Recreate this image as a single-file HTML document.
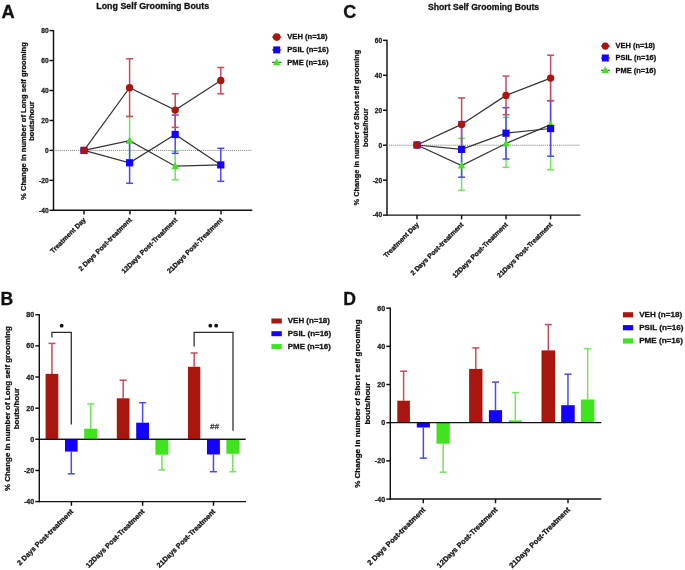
<!DOCTYPE html>
<html><head><meta charset="utf-8"><style>
html,body{margin:0;padding:0;background:#fff;}
body{width:685px;height:570px;overflow:hidden;}
svg{display:block;font-family:"Liberation Sans", sans-serif;filter:blur(0.4px);}
text{stroke-width:0.28px;}
</style></head><body>
<svg width="685" height="570" viewBox="0 0 685 570">
<rect width="685" height="570" fill="#fff"/>
<text x="1.40" y="18.00" font-size="18.3" text-anchor="start" font-weight="bold" fill="#111" stroke="#111" >A</text>
<text x="343.30" y="18.00" font-size="18.0" text-anchor="start" font-weight="bold" fill="#111" stroke="#111" >C</text>
<text x="0.60" y="305.00" font-size="17.6" text-anchor="start" font-weight="bold" fill="#111" stroke="#111" >B</text>
<text x="343.20" y="305.00" font-size="17.6" text-anchor="start" font-weight="bold" fill="#111" stroke="#111" >D</text>
<text x="152.70" y="9.00" font-size="8.9" text-anchor="middle" font-weight="bold" fill="#111" stroke="#111" >Long Self Grooming Bouts</text>
<text x="483.60" y="9.60" font-size="8.65" text-anchor="middle" font-weight="bold" fill="#111" stroke="#111" >Short Self Grooming Bouts</text>
<line x1="53.5" y1="30.000000000000007" x2="53.5" y2="210.9" stroke="#111" stroke-width="1.45"/>
<line x1="49.5" y1="30.60000000000001" x2="53.5" y2="30.60000000000001" stroke="#111" stroke-width="1.45"/>
<text x="48.60" y="32.98" font-size="6.6" text-anchor="end" font-weight="bold" fill="#222" stroke="#222" >80</text>
<line x1="49.5" y1="60.55000000000001" x2="53.5" y2="60.55000000000001" stroke="#111" stroke-width="1.45"/>
<text x="48.60" y="62.93" font-size="6.6" text-anchor="end" font-weight="bold" fill="#222" stroke="#222" >60</text>
<line x1="49.5" y1="90.5" x2="53.5" y2="90.5" stroke="#111" stroke-width="1.45"/>
<text x="48.60" y="92.88" font-size="6.6" text-anchor="end" font-weight="bold" fill="#222" stroke="#222" >40</text>
<line x1="49.5" y1="120.45" x2="53.5" y2="120.45" stroke="#111" stroke-width="1.45"/>
<text x="48.60" y="122.83" font-size="6.6" text-anchor="end" font-weight="bold" fill="#222" stroke="#222" >20</text>
<line x1="49.5" y1="150.4" x2="53.5" y2="150.4" stroke="#111" stroke-width="1.45"/>
<text x="48.60" y="152.78" font-size="6.6" text-anchor="end" font-weight="bold" fill="#222" stroke="#222" >0</text>
<line x1="49.5" y1="180.35" x2="53.5" y2="180.35" stroke="#111" stroke-width="1.45"/>
<text x="48.60" y="182.73" font-size="6.6" text-anchor="end" font-weight="bold" fill="#222" stroke="#222" >-20</text>
<line x1="49.5" y1="210.3" x2="53.5" y2="210.3" stroke="#111" stroke-width="1.45"/>
<text x="48.60" y="212.68" font-size="6.6" text-anchor="end" font-weight="bold" fill="#222" stroke="#222" >-40</text>
<line x1="53.5" y1="210.3" x2="252.3" y2="210.3" stroke="#111" stroke-width="1.45"/>
<line x1="84" y1="210.3" x2="84" y2="214.5" stroke="#111" stroke-width="1.45"/>
<line x1="130" y1="210.3" x2="130" y2="214.5" stroke="#111" stroke-width="1.45"/>
<line x1="175.5" y1="210.3" x2="175.5" y2="214.5" stroke="#111" stroke-width="1.45"/>
<line x1="221" y1="210.3" x2="221" y2="214.5" stroke="#111" stroke-width="1.45"/>
<line x1="53.5" y1="150.4" x2="251.3" y2="150.4" stroke="#808080" stroke-width="1" stroke-dasharray="1.1,0.95"/>
<text transform="translate(25.50,121.00) rotate(-90)" font-size="7.6" text-anchor="middle" font-weight="bold" fill="#111" stroke="#111">% Change in number of Long self grooming</text>
<text transform="translate(34.30,121.00) rotate(-90)" font-size="7.6" text-anchor="middle" font-weight="bold" fill="#111" stroke="#111">bouts/hour</text>
<text transform="translate(86.30,220.30) rotate(-45)" font-size="6.85" text-anchor="end" font-weight="bold" fill="#111" stroke="#111">Treatment Day</text>
<text transform="translate(132.30,220.30) rotate(-45)" font-size="6.85" text-anchor="end" font-weight="bold" fill="#111" stroke="#111">2 Days Post-treatment</text>
<text transform="translate(177.80,220.30) rotate(-45)" font-size="6.85" text-anchor="end" font-weight="bold" fill="#111" stroke="#111">12Days Post-Treatment</text>
<text transform="translate(223.30,220.30) rotate(-45)" font-size="6.85" text-anchor="end" font-weight="bold" fill="#111" stroke="#111">21Days Post-Treatment</text>
<line x1="129.6" y1="116.6" x2="129.6" y2="164.8" stroke="#6ee65a" stroke-width="1.5"/>
<line x1="126.1" y1="116.6" x2="133.1" y2="116.6" stroke="#6ee65a" stroke-width="1.5"/>
<line x1="126.1" y1="164.8" x2="133.1" y2="164.8" stroke="#6ee65a" stroke-width="1.5"/>
<line x1="175.2" y1="151.3" x2="175.2" y2="179.8" stroke="#6ee65a" stroke-width="1.5"/>
<line x1="171.7" y1="151.3" x2="178.7" y2="151.3" stroke="#6ee65a" stroke-width="1.5"/>
<line x1="171.7" y1="179.8" x2="178.7" y2="179.8" stroke="#6ee65a" stroke-width="1.5"/>
<line x1="129.6" y1="142.3" x2="129.6" y2="183.3" stroke="#4f48f2" stroke-width="1.5"/>
<line x1="126.1" y1="142.3" x2="133.1" y2="142.3" stroke="#4f48f2" stroke-width="1.5"/>
<line x1="126.1" y1="183.3" x2="133.1" y2="183.3" stroke="#4f48f2" stroke-width="1.5"/>
<line x1="175.2" y1="115.1" x2="175.2" y2="153.4" stroke="#4f48f2" stroke-width="1.5"/>
<line x1="171.7" y1="115.1" x2="178.7" y2="115.1" stroke="#4f48f2" stroke-width="1.5"/>
<line x1="171.7" y1="153.4" x2="178.7" y2="153.4" stroke="#4f48f2" stroke-width="1.5"/>
<line x1="220.8" y1="148.3" x2="220.8" y2="181.3" stroke="#4f48f2" stroke-width="1.5"/>
<line x1="217.3" y1="148.3" x2="224.3" y2="148.3" stroke="#4f48f2" stroke-width="1.5"/>
<line x1="217.3" y1="181.3" x2="224.3" y2="181.3" stroke="#4f48f2" stroke-width="1.5"/>
<line x1="129.6" y1="58.8" x2="129.6" y2="116.4" stroke="#c94a5c" stroke-width="1.5"/>
<line x1="126.1" y1="58.8" x2="133.1" y2="58.8" stroke="#c94a5c" stroke-width="1.5"/>
<line x1="126.1" y1="116.4" x2="133.1" y2="116.4" stroke="#c94a5c" stroke-width="1.5"/>
<line x1="175.2" y1="93.8" x2="175.2" y2="127.4" stroke="#c94a5c" stroke-width="1.5"/>
<line x1="171.7" y1="93.8" x2="178.7" y2="93.8" stroke="#c94a5c" stroke-width="1.5"/>
<line x1="171.7" y1="127.4" x2="178.7" y2="127.4" stroke="#c94a5c" stroke-width="1.5"/>
<line x1="220.8" y1="67.5" x2="220.8" y2="93.8" stroke="#c94a5c" stroke-width="1.5"/>
<line x1="217.3" y1="67.5" x2="224.3" y2="67.5" stroke="#c94a5c" stroke-width="1.5"/>
<line x1="217.3" y1="93.8" x2="224.3" y2="93.8" stroke="#c94a5c" stroke-width="1.5"/>
<polyline points="84,150.4 129.6,140.7 175.2,166.2 220.8,164.9" fill="none" stroke="#333" stroke-width="1.2"/>
<polyline points="84,150.4 129.6,162.8 175.2,134.5 220.8,164.9" fill="none" stroke="#333" stroke-width="1.2"/>
<polyline points="84,150.4 129.6,87.7 175.2,110.1 220.8,80.5" fill="none" stroke="#333" stroke-width="1.2"/>
<polygon points="129.6,136.5675 133.35,143.6925 125.85,143.6925" fill="#3fe41e"/>
<polygon points="175.2,162.0675 178.95,169.1925 171.45,169.1925" fill="#3fe41e"/>
<polygon points="220.8,160.7675 224.55,167.8925 217.05,167.8925" fill="#3fe41e"/>
<rect x="80.4" y="146.8" width="7.2" height="7.2" fill="#1400ff"/>
<rect x="126.0" y="159.20000000000002" width="7.2" height="7.2" fill="#1400ff"/>
<rect x="171.6" y="130.9" width="7.2" height="7.2" fill="#1400ff"/>
<rect x="217.20000000000002" y="161.3" width="7.2" height="7.2" fill="#1400ff"/>
<circle cx="84" cy="150.4" r="3.7" fill="#a8160f"/>
<circle cx="129.6" cy="87.7" r="3.7" fill="#a8160f"/>
<circle cx="175.2" cy="110.1" r="3.7" fill="#a8160f"/>
<circle cx="220.8" cy="80.5" r="3.7" fill="#a8160f"/>
<line x1="272" y1="37.1" x2="281.5" y2="37.1" stroke="#333" stroke-width="1"/>
<circle cx="276.7" cy="37.1" r="3.8" fill="#a8160f"/>
<text x="287.30" y="39.45" font-size="7.6" text-anchor="start" font-weight="bold" fill="#111" stroke="#111" >VEH (n=18)</text>
<line x1="272" y1="49.9" x2="281.5" y2="49.9" stroke="#333" stroke-width="1"/>
<rect x="273.2" y="46.4" width="7" height="7" fill="#1400ff"/>
<text x="287.30" y="52.25" font-size="7.6" text-anchor="start" font-weight="bold" fill="#111" stroke="#111" >PSIL (n=16)</text>
<line x1="272" y1="62.3" x2="281.5" y2="62.3" stroke="#333" stroke-width="1"/>
<polygon points="276.7,58.1675 280.45,65.29249999999999 272.95,65.29249999999999" fill="#3fe41e"/>
<text x="287.30" y="64.65" font-size="7.6" text-anchor="start" font-weight="bold" fill="#111" stroke="#111" >PME (n=16)</text>
<line x1="387" y1="39.74999999999999" x2="387" y2="215.7" stroke="#111" stroke-width="1.45"/>
<line x1="383.0" y1="40.349999999999994" x2="387" y2="40.349999999999994" stroke="#111" stroke-width="1.45"/>
<text x="382.20" y="42.73" font-size="6.6" text-anchor="end" font-weight="bold" fill="#222" stroke="#222" >60</text>
<line x1="383.0" y1="75.29999999999998" x2="387" y2="75.29999999999998" stroke="#111" stroke-width="1.45"/>
<text x="382.20" y="77.68" font-size="6.6" text-anchor="end" font-weight="bold" fill="#222" stroke="#222" >40</text>
<line x1="383.0" y1="110.24999999999999" x2="387" y2="110.24999999999999" stroke="#111" stroke-width="1.45"/>
<text x="382.20" y="112.63" font-size="6.6" text-anchor="end" font-weight="bold" fill="#222" stroke="#222" >20</text>
<line x1="383.0" y1="145.2" x2="387" y2="145.2" stroke="#111" stroke-width="1.45"/>
<text x="382.20" y="147.58" font-size="6.6" text-anchor="end" font-weight="bold" fill="#222" stroke="#222" >0</text>
<line x1="383.0" y1="180.14999999999998" x2="387" y2="180.14999999999998" stroke="#111" stroke-width="1.45"/>
<text x="382.20" y="182.53" font-size="6.6" text-anchor="end" font-weight="bold" fill="#222" stroke="#222" >-20</text>
<line x1="383.0" y1="215.1" x2="387" y2="215.1" stroke="#111" stroke-width="1.45"/>
<text x="382.20" y="217.48" font-size="6.6" text-anchor="end" font-weight="bold" fill="#222" stroke="#222" >-40</text>
<line x1="387" y1="215.1" x2="580.5" y2="215.1" stroke="#111" stroke-width="1.45"/>
<line x1="417" y1="215.1" x2="417" y2="219.29999999999998" stroke="#111" stroke-width="1.45"/>
<line x1="461.6" y1="215.1" x2="461.6" y2="219.29999999999998" stroke="#111" stroke-width="1.45"/>
<line x1="506" y1="215.1" x2="506" y2="219.29999999999998" stroke="#111" stroke-width="1.45"/>
<line x1="550.6" y1="215.1" x2="550.6" y2="219.29999999999998" stroke="#111" stroke-width="1.45"/>
<line x1="387" y1="145.2" x2="580" y2="145.2" stroke="#808080" stroke-width="1" stroke-dasharray="1.1,0.95"/>
<text transform="translate(359.00,127.60) rotate(-90)" font-size="7.45" text-anchor="middle" font-weight="bold" fill="#111" stroke="#111">% Change in number of Short self grooming</text>
<text transform="translate(368.00,127.60) rotate(-90)" font-size="7.45" text-anchor="middle" font-weight="bold" fill="#111" stroke="#111">bouts/hour</text>
<text transform="translate(419.30,225.10) rotate(-45)" font-size="6.8" text-anchor="end" font-weight="bold" fill="#111" stroke="#111">Treatment Day</text>
<text transform="translate(463.90,225.10) rotate(-45)" font-size="6.8" text-anchor="end" font-weight="bold" fill="#111" stroke="#111">2 Days Post-treatment</text>
<text transform="translate(508.30,225.10) rotate(-45)" font-size="6.8" text-anchor="end" font-weight="bold" fill="#111" stroke="#111">12Days Post-Treatment</text>
<text transform="translate(552.90,225.10) rotate(-45)" font-size="6.8" text-anchor="end" font-weight="bold" fill="#111" stroke="#111">21Days Post-Treatment</text>
<line x1="461.6" y1="138.4" x2="461.6" y2="190.4" stroke="#6ee65a" stroke-width="1.5"/>
<line x1="458.1" y1="138.4" x2="465.1" y2="138.4" stroke="#6ee65a" stroke-width="1.5"/>
<line x1="458.1" y1="190.4" x2="465.1" y2="190.4" stroke="#6ee65a" stroke-width="1.5"/>
<line x1="506" y1="117.4" x2="506" y2="167.4" stroke="#6ee65a" stroke-width="1.5"/>
<line x1="502.5" y1="117.4" x2="509.5" y2="117.4" stroke="#6ee65a" stroke-width="1.5"/>
<line x1="502.5" y1="167.4" x2="509.5" y2="167.4" stroke="#6ee65a" stroke-width="1.5"/>
<line x1="550.6" y1="77.8" x2="550.6" y2="169.7" stroke="#6ee65a" stroke-width="1.5"/>
<line x1="547.1" y1="77.8" x2="554.1" y2="77.8" stroke="#6ee65a" stroke-width="1.5"/>
<line x1="547.1" y1="169.7" x2="554.1" y2="169.7" stroke="#6ee65a" stroke-width="1.5"/>
<line x1="461.6" y1="121.6" x2="461.6" y2="177.2" stroke="#4f48f2" stroke-width="1.5"/>
<line x1="458.1" y1="121.6" x2="465.1" y2="121.6" stroke="#4f48f2" stroke-width="1.5"/>
<line x1="458.1" y1="177.2" x2="465.1" y2="177.2" stroke="#4f48f2" stroke-width="1.5"/>
<line x1="506" y1="107.7" x2="506" y2="159" stroke="#4f48f2" stroke-width="1.5"/>
<line x1="502.5" y1="107.7" x2="509.5" y2="107.7" stroke="#4f48f2" stroke-width="1.5"/>
<line x1="502.5" y1="159" x2="509.5" y2="159" stroke="#4f48f2" stroke-width="1.5"/>
<line x1="550.6" y1="100.7" x2="550.6" y2="156.2" stroke="#4f48f2" stroke-width="1.5"/>
<line x1="547.1" y1="100.7" x2="554.1" y2="100.7" stroke="#4f48f2" stroke-width="1.5"/>
<line x1="547.1" y1="156.2" x2="554.1" y2="156.2" stroke="#4f48f2" stroke-width="1.5"/>
<line x1="461.6" y1="97.9" x2="461.6" y2="150.9" stroke="#c94a5c" stroke-width="1.5"/>
<line x1="458.1" y1="97.9" x2="465.1" y2="97.9" stroke="#c94a5c" stroke-width="1.5"/>
<line x1="458.1" y1="150.9" x2="465.1" y2="150.9" stroke="#c94a5c" stroke-width="1.5"/>
<line x1="506" y1="76.1" x2="506" y2="114.7" stroke="#c94a5c" stroke-width="1.5"/>
<line x1="502.5" y1="76.1" x2="509.5" y2="76.1" stroke="#c94a5c" stroke-width="1.5"/>
<line x1="502.5" y1="114.7" x2="509.5" y2="114.7" stroke="#c94a5c" stroke-width="1.5"/>
<line x1="550.6" y1="55.2" x2="550.6" y2="100.7" stroke="#c94a5c" stroke-width="1.5"/>
<line x1="547.1" y1="55.2" x2="554.1" y2="55.2" stroke="#c94a5c" stroke-width="1.5"/>
<line x1="547.1" y1="100.7" x2="554.1" y2="100.7" stroke="#c94a5c" stroke-width="1.5"/>
<polyline points="417,145 461.6,165.6 506,143.5 550.6,124.6" fill="none" stroke="#333" stroke-width="1.2"/>
<polyline points="417,145 461.6,149.4 506,133.2 550.6,128.5" fill="none" stroke="#333" stroke-width="1.2"/>
<polyline points="417,145 461.6,124.4 506,95.4 550.6,78.1" fill="none" stroke="#333" stroke-width="1.2"/>
<polygon points="461.6,161.4675 465.35,168.5925 457.85,168.5925" fill="#3fe41e"/>
<polygon points="506,139.3675 509.75,146.4925 502.25,146.4925" fill="#3fe41e"/>
<polygon points="550.6,120.4675 554.35,127.5925 546.85,127.5925" fill="#3fe41e"/>
<rect x="413.4" y="141.4" width="7.2" height="7.2" fill="#1400ff"/>
<rect x="458.0" y="145.8" width="7.2" height="7.2" fill="#1400ff"/>
<rect x="502.4" y="129.6" width="7.2" height="7.2" fill="#1400ff"/>
<rect x="547.0" y="124.9" width="7.2" height="7.2" fill="#1400ff"/>
<circle cx="417" cy="145" r="3.7" fill="#a8160f"/>
<circle cx="461.6" cy="124.4" r="3.7" fill="#a8160f"/>
<circle cx="506" cy="95.4" r="3.7" fill="#a8160f"/>
<circle cx="550.6" cy="78.1" r="3.7" fill="#a8160f"/>
<line x1="601" y1="46.1" x2="610" y2="46.1" stroke="#333" stroke-width="1"/>
<circle cx="605.3" cy="46.1" r="3.6" fill="#a8160f"/>
<text x="615.60" y="48.40" font-size="7.45" text-anchor="start" font-weight="bold" fill="#111" stroke="#111" >VEH (n=18)</text>
<line x1="601" y1="58.0" x2="610" y2="58.0" stroke="#333" stroke-width="1"/>
<rect x="601.8" y="54.5" width="7" height="7" fill="#1400ff"/>
<text x="615.60" y="60.30" font-size="7.45" text-anchor="start" font-weight="bold" fill="#111" stroke="#111" >PSIL (n=16)</text>
<line x1="601" y1="70.3" x2="610" y2="70.3" stroke="#333" stroke-width="1"/>
<polygon points="605.3,66.1675 609.05,73.29249999999999 601.55,73.29249999999999" fill="#3fe41e"/>
<text x="615.60" y="72.60" font-size="7.45" text-anchor="start" font-weight="bold" fill="#111" stroke="#111" >PME (n=16)</text>
<line x1="39.3" y1="314.1" x2="39.3" y2="502.20000000000005" stroke="#111" stroke-width="1.45"/>
<line x1="35.3" y1="314.70000000000005" x2="39.3" y2="314.70000000000005" stroke="#111" stroke-width="1.45"/>
<text x="34.30" y="317.27" font-size="7.15" text-anchor="end" font-weight="bold" fill="#222" stroke="#222" >80</text>
<line x1="35.3" y1="345.85" x2="39.3" y2="345.85" stroke="#111" stroke-width="1.45"/>
<text x="34.30" y="348.42" font-size="7.15" text-anchor="end" font-weight="bold" fill="#222" stroke="#222" >60</text>
<line x1="35.3" y1="377.0" x2="39.3" y2="377.0" stroke="#111" stroke-width="1.45"/>
<text x="34.30" y="379.57" font-size="7.15" text-anchor="end" font-weight="bold" fill="#222" stroke="#222" >40</text>
<line x1="35.3" y1="408.15000000000003" x2="39.3" y2="408.15000000000003" stroke="#111" stroke-width="1.45"/>
<text x="34.30" y="410.72" font-size="7.15" text-anchor="end" font-weight="bold" fill="#222" stroke="#222" >20</text>
<line x1="35.3" y1="439.3" x2="39.3" y2="439.3" stroke="#111" stroke-width="1.45"/>
<text x="34.30" y="441.87" font-size="7.15" text-anchor="end" font-weight="bold" fill="#222" stroke="#222" >0</text>
<line x1="35.3" y1="470.45" x2="39.3" y2="470.45" stroke="#111" stroke-width="1.45"/>
<text x="34.30" y="473.02" font-size="7.15" text-anchor="end" font-weight="bold" fill="#222" stroke="#222" >-20</text>
<line x1="35.3" y1="501.6" x2="39.3" y2="501.6" stroke="#111" stroke-width="1.45"/>
<text x="34.30" y="504.17" font-size="7.15" text-anchor="end" font-weight="bold" fill="#222" stroke="#222" >-40</text>
<line x1="39.3" y1="501.6" x2="246" y2="501.6" stroke="#111" stroke-width="1.45"/>
<line x1="71.4" y1="501.6" x2="71.4" y2="505.8" stroke="#111" stroke-width="1.45"/>
<line x1="142.6" y1="501.6" x2="142.6" y2="505.8" stroke="#111" stroke-width="1.45"/>
<line x1="213.5" y1="501.6" x2="213.5" y2="505.8" stroke="#111" stroke-width="1.45"/>
<line x1="39.3" y1="439.3" x2="245.5" y2="439.3" stroke="#111" stroke-width="1.3"/>
<text transform="translate(9.50,408.60) rotate(-90)" font-size="7.95" text-anchor="middle" font-weight="bold" fill="#111" stroke="#111">% Change in number of Long self grooming</text>
<text transform="translate(18.90,408.60) rotate(-90)" font-size="7.95" text-anchor="middle" font-weight="bold" fill="#111" stroke="#111">bouts/hour</text>
<text transform="translate(73.70,512.00) rotate(-45)" font-size="7.2" text-anchor="end" font-weight="bold" fill="#111" stroke="#111">2 Days Post-treatment</text>
<text transform="translate(144.90,512.00) rotate(-45)" font-size="7.2" text-anchor="end" font-weight="bold" fill="#111" stroke="#111">12Days Post-Treatment</text>
<text transform="translate(215.80,512.00) rotate(-45)" font-size="7.2" text-anchor="end" font-weight="bold" fill="#111" stroke="#111">21Days Post-Treatment</text>
<line x1="51.95" y1="343.4" x2="51.95" y2="373.9" stroke="#c94a5c" stroke-width="1.5"/>
<line x1="48.45" y1="343.4" x2="55.45" y2="343.4" stroke="#c94a5c" stroke-width="1.5"/>
<rect x="45.6" y="373.9" width="12.699999999999996" height="65.40000000000003" fill="#a8160f"/>
<line x1="71.3" y1="451.6" x2="71.3" y2="473.8" stroke="#4f48f2" stroke-width="1.5"/>
<line x1="67.8" y1="473.8" x2="74.8" y2="473.8" stroke="#4f48f2" stroke-width="1.5"/>
<rect x="65" y="439.3" width="12.599999999999994" height="12.300000000000011" fill="#1400ff"/>
<line x1="90.75" y1="403.9" x2="90.75" y2="428.7" stroke="#6ee65a" stroke-width="1.5"/>
<line x1="87.25" y1="403.9" x2="94.25" y2="403.9" stroke="#6ee65a" stroke-width="1.5"/>
<rect x="84.2" y="428.7" width="13.099999999999994" height="10.600000000000023" fill="#3fe41e"/>
<line x1="123.15" y1="380.2" x2="123.15" y2="398.3" stroke="#c94a5c" stroke-width="1.5"/>
<line x1="119.65" y1="380.2" x2="126.65" y2="380.2" stroke="#c94a5c" stroke-width="1.5"/>
<rect x="116.8" y="398.3" width="12.700000000000003" height="41.0" fill="#a8160f"/>
<line x1="142.6" y1="402.7" x2="142.6" y2="422.7" stroke="#4f48f2" stroke-width="1.5"/>
<line x1="139.1" y1="402.7" x2="146.1" y2="402.7" stroke="#4f48f2" stroke-width="1.5"/>
<rect x="136.2" y="422.7" width="12.800000000000011" height="16.600000000000023" fill="#1400ff"/>
<line x1="161.9" y1="454.7" x2="161.9" y2="469.9" stroke="#6ee65a" stroke-width="1.5"/>
<line x1="158.4" y1="469.9" x2="165.4" y2="469.9" stroke="#6ee65a" stroke-width="1.5"/>
<rect x="155.4" y="439.3" width="13.0" height="15.399999999999977" fill="#3fe41e"/>
<line x1="194.15" y1="353" x2="194.15" y2="366.8" stroke="#c94a5c" stroke-width="1.5"/>
<line x1="190.65" y1="353" x2="197.65" y2="353" stroke="#c94a5c" stroke-width="1.5"/>
<rect x="188" y="366.8" width="12.300000000000011" height="72.5" fill="#a8160f"/>
<line x1="213.45" y1="454.5" x2="213.45" y2="471.7" stroke="#4f48f2" stroke-width="1.5"/>
<line x1="209.95" y1="471.7" x2="216.95" y2="471.7" stroke="#4f48f2" stroke-width="1.5"/>
<rect x="207" y="439.3" width="12.900000000000006" height="15.199999999999989" fill="#1400ff"/>
<line x1="232.8" y1="453.8" x2="232.8" y2="471.7" stroke="#6ee65a" stroke-width="1.5"/>
<line x1="229.3" y1="471.7" x2="236.3" y2="471.7" stroke="#6ee65a" stroke-width="1.5"/>
<rect x="226.4" y="439.3" width="12.799999999999983" height="14.5" fill="#3fe41e"/>
<line x1="39.3" y1="439.3" x2="245.5" y2="439.3" stroke="#111" stroke-width="1.3"/>
<path d="M51.9,337.6 V332.3 H71.3 V424.6" fill="none" stroke="#2a2a2a" stroke-width="1.25"/>
<path d="M194.1,346.6 V332.4 H233 V430.7" fill="none" stroke="#2a2a2a" stroke-width="1.25"/>
<circle cx="61.7" cy="325.7" r="1.9" fill="#111"/>
<circle cx="210.3" cy="325.7" r="1.9" fill="#111"/>
<circle cx="216.2" cy="325.7" r="1.9" fill="#111"/>
<text x="214.40" y="429.20" font-size="8" text-anchor="middle" font-weight="normal" fill="#333" stroke="#333" font-style="italic">##</text>
<rect x="271.4" y="318.5" width="10.4" height="5" fill="#a8160f"/>
<text x="287.80" y="323.45" font-size="7.95" text-anchor="start" font-weight="bold" fill="#111" stroke="#111" >VEH (n=18)</text>
<rect x="271.4" y="331.2" width="10.4" height="5" fill="#1400ff"/>
<text x="287.80" y="336.15" font-size="7.95" text-anchor="start" font-weight="bold" fill="#111" stroke="#111" >PSIL (n=16)</text>
<rect x="271.4" y="344.1" width="10.4" height="5" fill="#3fe41e"/>
<text x="287.80" y="349.05" font-size="7.95" text-anchor="start" font-weight="bold" fill="#111" stroke="#111" >PME (n=16)</text>
<line x1="390.3" y1="307.55999999999995" x2="390.3" y2="499.66" stroke="#111" stroke-width="1.45"/>
<line x1="386.3" y1="308.15999999999997" x2="390.3" y2="308.15999999999997" stroke="#111" stroke-width="1.45"/>
<text x="385.10" y="310.72" font-size="7.1" text-anchor="end" font-weight="bold" fill="#222" stroke="#222" >60</text>
<line x1="386.3" y1="346.34" x2="390.3" y2="346.34" stroke="#111" stroke-width="1.45"/>
<text x="385.10" y="348.90" font-size="7.1" text-anchor="end" font-weight="bold" fill="#222" stroke="#222" >40</text>
<line x1="386.3" y1="384.52" x2="390.3" y2="384.52" stroke="#111" stroke-width="1.45"/>
<text x="385.10" y="387.08" font-size="7.1" text-anchor="end" font-weight="bold" fill="#222" stroke="#222" >20</text>
<line x1="386.3" y1="422.7" x2="390.3" y2="422.7" stroke="#111" stroke-width="1.45"/>
<text x="385.10" y="425.26" font-size="7.1" text-anchor="end" font-weight="bold" fill="#222" stroke="#222" >0</text>
<line x1="386.3" y1="460.88" x2="390.3" y2="460.88" stroke="#111" stroke-width="1.45"/>
<text x="385.10" y="463.44" font-size="7.1" text-anchor="end" font-weight="bold" fill="#222" stroke="#222" >-20</text>
<line x1="386.3" y1="499.06" x2="390.3" y2="499.06" stroke="#111" stroke-width="1.45"/>
<text x="385.10" y="501.62" font-size="7.1" text-anchor="end" font-weight="bold" fill="#222" stroke="#222" >-40</text>
<line x1="390.3" y1="499.06" x2="601.3" y2="499.06" stroke="#111" stroke-width="1.45"/>
<line x1="423.3" y1="499.06" x2="423.3" y2="503.26" stroke="#111" stroke-width="1.45"/>
<line x1="495.5" y1="499.06" x2="495.5" y2="503.26" stroke="#111" stroke-width="1.45"/>
<line x1="568" y1="499.06" x2="568" y2="503.26" stroke="#111" stroke-width="1.45"/>
<text transform="translate(360.20,403.60) rotate(-90)" font-size="8.05" text-anchor="middle" font-weight="bold" fill="#111" stroke="#111">% Change in number of Short self grooming</text>
<text transform="translate(369.60,403.60) rotate(-90)" font-size="8.05" text-anchor="middle" font-weight="bold" fill="#111" stroke="#111">bouts/hour</text>
<text transform="translate(425.80,510.26) rotate(-45)" font-size="7.45" text-anchor="end" font-weight="bold" fill="#111" stroke="#111">2 Days Post-treatment</text>
<text transform="translate(498.00,510.26) rotate(-45)" font-size="7.45" text-anchor="end" font-weight="bold" fill="#111" stroke="#111">12Days Post-Treatment</text>
<text transform="translate(570.50,510.26) rotate(-45)" font-size="7.45" text-anchor="end" font-weight="bold" fill="#111" stroke="#111">21Days Post-Treatment</text>
<line x1="403.6" y1="371.2" x2="403.6" y2="400.7" stroke="#c94a5c" stroke-width="1.5"/>
<line x1="400.1" y1="371.2" x2="407.1" y2="371.2" stroke="#c94a5c" stroke-width="1.5"/>
<rect x="397.3" y="400.7" width="12.599999999999966" height="22.0" fill="#a8160f"/>
<line x1="423.35" y1="427.5" x2="423.35" y2="458.1" stroke="#4f48f2" stroke-width="1.5"/>
<line x1="419.85" y1="458.1" x2="426.85" y2="458.1" stroke="#4f48f2" stroke-width="1.5"/>
<rect x="416.8" y="422.7" width="13.099999999999966" height="4.800000000000011" fill="#1400ff"/>
<line x1="443.15" y1="443.7" x2="443.15" y2="472.2" stroke="#6ee65a" stroke-width="1.5"/>
<line x1="439.65" y1="472.2" x2="446.65" y2="472.2" stroke="#6ee65a" stroke-width="1.5"/>
<rect x="436.5" y="422.7" width="13.300000000000011" height="21.0" fill="#3fe41e"/>
<line x1="475.8" y1="347.9" x2="475.8" y2="368.9" stroke="#c94a5c" stroke-width="1.5"/>
<line x1="472.3" y1="347.9" x2="479.3" y2="347.9" stroke="#c94a5c" stroke-width="1.5"/>
<rect x="469.1" y="368.9" width="13.399999999999977" height="53.80000000000001" fill="#a8160f"/>
<line x1="495.5" y1="382.1" x2="495.5" y2="410.2" stroke="#4f48f2" stroke-width="1.5"/>
<line x1="492.0" y1="382.1" x2="499.0" y2="382.1" stroke="#4f48f2" stroke-width="1.5"/>
<rect x="488.9" y="410.2" width="13.200000000000045" height="12.5" fill="#1400ff"/>
<line x1="515.35" y1="392.6" x2="515.35" y2="420.4" stroke="#6ee65a" stroke-width="1.5"/>
<line x1="511.85" y1="392.6" x2="518.85" y2="392.6" stroke="#6ee65a" stroke-width="1.5"/>
<rect x="508.8" y="420.4" width="13.099999999999966" height="2.3000000000000114" fill="#3fe41e"/>
<line x1="548.3" y1="324.6" x2="548.3" y2="350.4" stroke="#c94a5c" stroke-width="1.5"/>
<line x1="544.8" y1="324.6" x2="551.8" y2="324.6" stroke="#c94a5c" stroke-width="1.5"/>
<rect x="541.5" y="350.4" width="13.600000000000023" height="72.30000000000001" fill="#a8160f"/>
<line x1="567.95" y1="374.2" x2="567.95" y2="405.2" stroke="#4f48f2" stroke-width="1.5"/>
<line x1="564.45" y1="374.2" x2="571.45" y2="374.2" stroke="#4f48f2" stroke-width="1.5"/>
<rect x="561.2" y="405.2" width="13.5" height="17.5" fill="#1400ff"/>
<line x1="587.65" y1="348.6" x2="587.65" y2="399.5" stroke="#6ee65a" stroke-width="1.5"/>
<line x1="584.15" y1="348.6" x2="591.15" y2="348.6" stroke="#6ee65a" stroke-width="1.5"/>
<rect x="580.9" y="399.5" width="13.5" height="23.19999999999999" fill="#3fe41e"/>
<line x1="390.3" y1="422.7" x2="601.3" y2="422.7" stroke="#111" stroke-width="1.3"/>
<rect x="622.9" y="312.2" width="10.3" height="5.2" fill="#a8160f"/>
<text x="639.20" y="317.20" font-size="8.1" text-anchor="start" font-weight="bold" fill="#111" stroke="#111" >VEH (n=18)</text>
<rect x="622.9" y="325.09999999999997" width="10.3" height="5.2" fill="#1400ff"/>
<text x="639.20" y="330.10" font-size="8.1" text-anchor="start" font-weight="bold" fill="#111" stroke="#111" >PSIL (n=16)</text>
<rect x="622.9" y="338.4" width="10.3" height="5.2" fill="#3fe41e"/>
<text x="639.20" y="343.40" font-size="8.1" text-anchor="start" font-weight="bold" fill="#111" stroke="#111" >PME (n=16)</text>
</svg>
</body></html>
